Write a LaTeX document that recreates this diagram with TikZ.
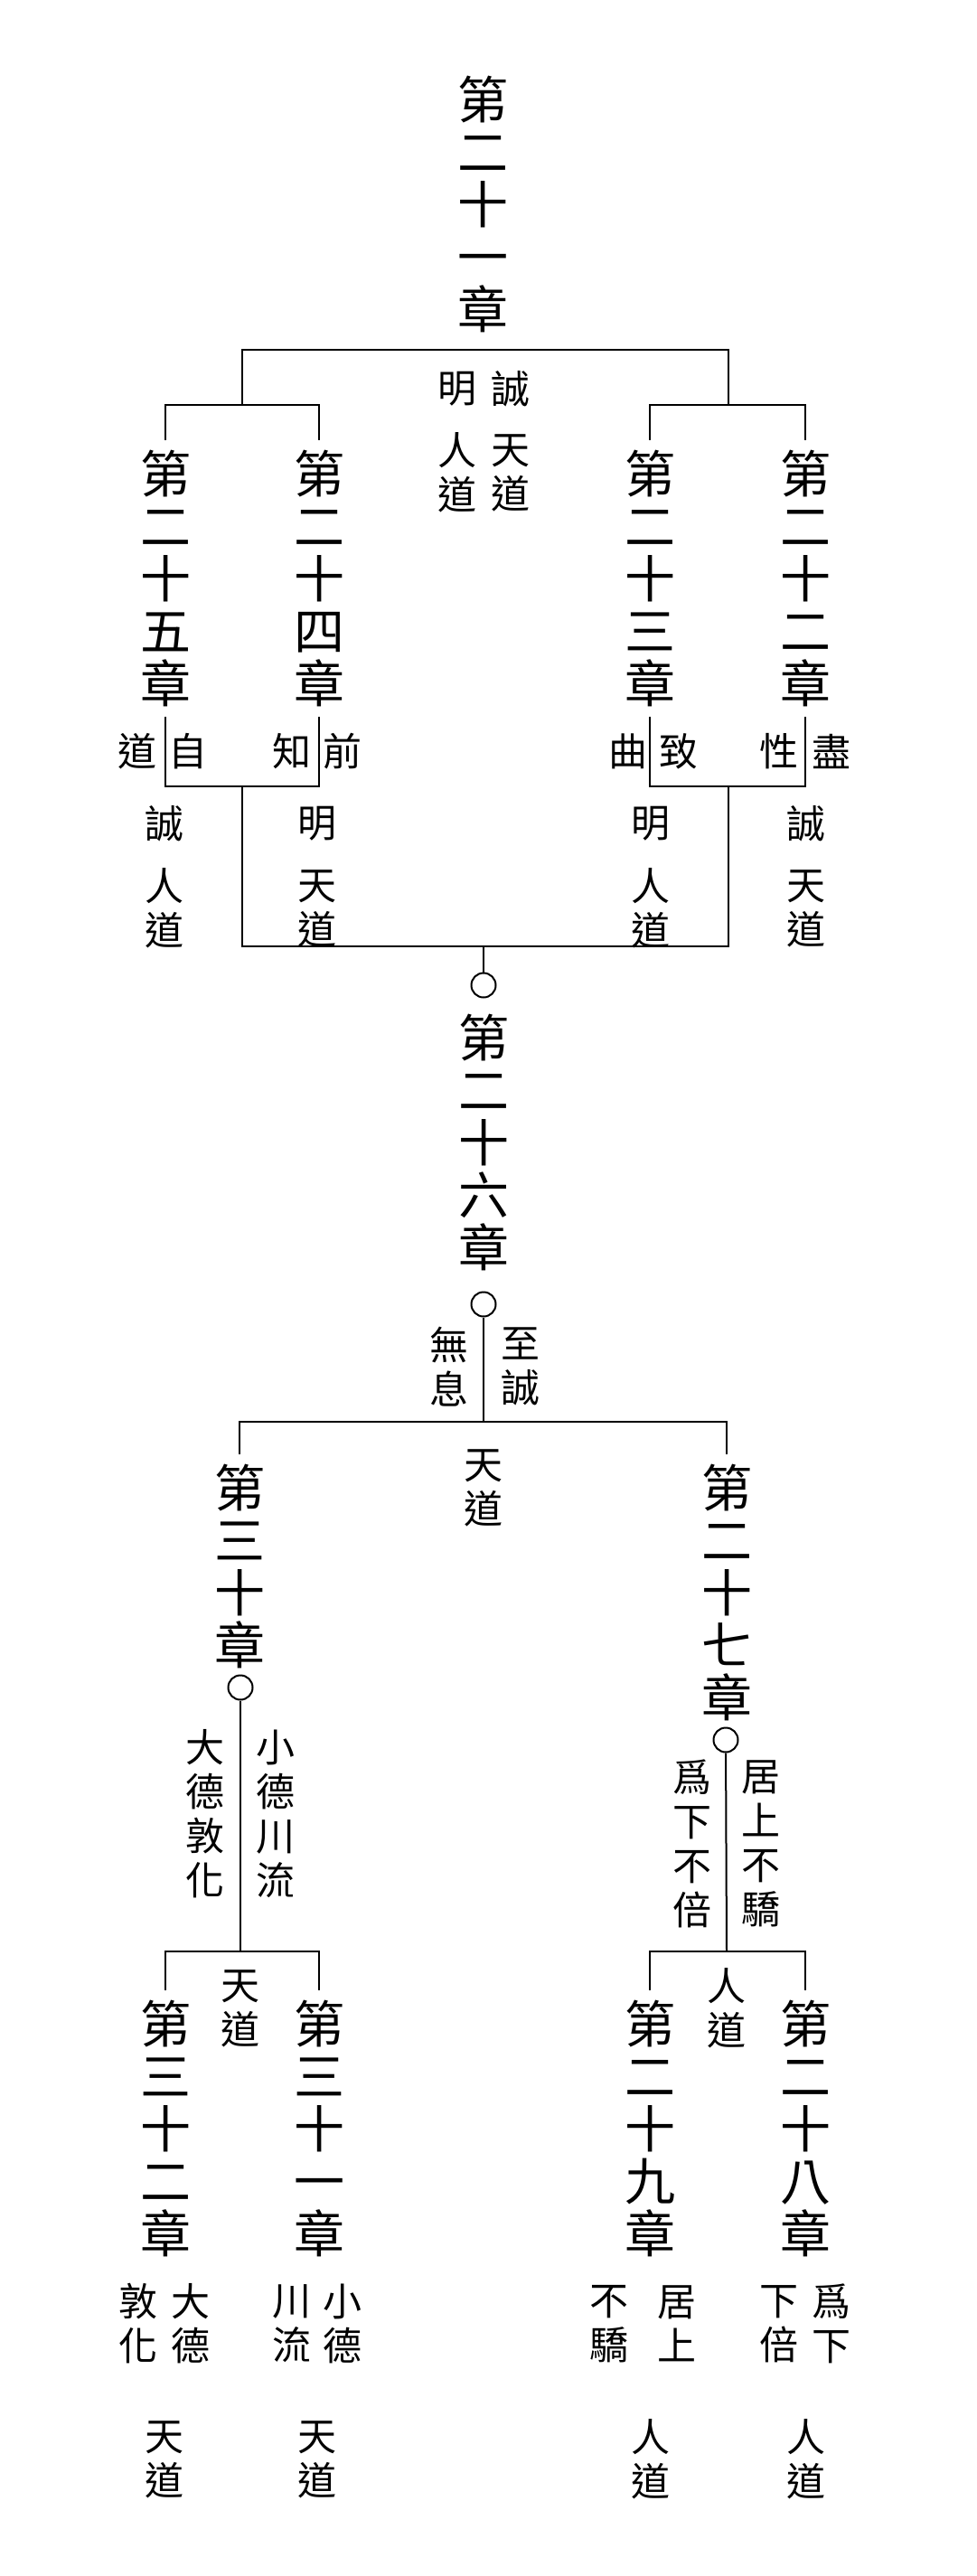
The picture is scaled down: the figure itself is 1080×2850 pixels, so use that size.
\documentclass[tikz,border=0pt]{standalone}
\usepackage{fontspec}
\newfontfamily\cjk{Noto Sans CJK TC}

\begin{document}
\begin{tikzpicture}[x=1pt, y=-1pt, line width=2pt,
  every node/.style = {align=center, inner sep=0pt},
  chap/.style = {font=\cjk\fontsize{56}{58}\selectfont, outer sep=11pt},
  gloss/.style = {font=\cjk\fontsize{43}{49}\selectfont},
  ring/.style = {shape=circle, draw, minimum size=27pt}]
  \useasboundingbox (0,0) rectangle (1080,2850);

  % chapter 21 and the four chapters under it
  \node[chap] (c21) at (534,226) {第\\二\\十\\一\\章};
  \node[chap] (c25) at (183,640) {第\\二\\十\\五\\章};
  \node[chap] (c24) at (353,640) {第\\二\\十\\四\\章};
  \node[chap] (c23) at (719,640) {第\\二\\十\\三\\章};
  \node[chap] (c22) at (891,640) {第\\二\\十\\二\\章};

  \node[gloss] (mingT) at (506,430) {明};
  \node[gloss] (chengT) at (565,430) {誠};
  \node[gloss] (rendaoT) at (506,523) {人\\道};
  \node[gloss] (tiandaoT) at (565,523) {天\\道};

  \coordinate (jT) at (535,387);
  \coordinate (jL) at (268,448);
  \coordinate (jR) at (806,448);
  \draw (c25.north) |- (jL) -| (c24.north);
  \draw (c23.north) |- (jR) -| (c22.north);
  \draw (jL) |- (jT) -| (jR);

  \foreach \x/\t in {152/道, 208/自, 323/知, 379/前, 695/曲, 751/致, 862/性, 920/盡}
    \node[gloss] (s\x) at (\x,831) {\t};
  \foreach \x/\t/\u in {182/誠/人, 351/明/天, 720/明/人, 892/誠/天} {
    \node[gloss] (w\x) at (\x,911) {\t};
    \node[gloss] (d\x) at (\x,1005) {\u\\道};
  }

  \coordinate (kL) at (268,870);
  \coordinate (kR) at (806,870);
  \coordinate (kB) at (535,1047);
  \draw (c25.south) |- (kL) -| (c24.south);
  \draw (c23.south) |- (kR) -| (c22.south);
  \draw (kL) |- (kB) -| (kR);

  % chapter 26
  \node[ring] (o1) at (535,1090) {};
  \node[chap] (c26) at (535,1264) {第\\二\\十\\六\\章};
  \node[ring] (o2) at (535,1443) {};
  \draw (kB) -- (o1);

  \node[gloss] (wuxi) at (497,1512) {無\\息};
  \node[gloss] (zhicheng) at (576,1512) {至\\誠};
  \node[gloss] (tiandaoM) at (535,1646) {天\\道};

  \node[chap] (c30) at (265,1733) {第\\三\\十\\章};
  \node[chap] (c27) at (804,1762) {第\\二\\十\\七\\章};
  \coordinate (mB) at (535,1573);
  \draw (o2) -- (mB);
  \draw (c30.north) |- (mB) -| (c27.north);

  \node[ring] (o3) at (266,1867) {};
  \node[ring] (o4) at (803,1925) {};
  \node[gloss] (dade) at (227,2007) {大\\德\\敦\\化};
  \node[gloss] (xiaode) at (305,2007) {小\\德\\川\\流};
  \node[gloss] (weixia) at (766,2040) {爲\\下\\不\\倍};
  \node[gloss] (jushang) at (842,2040) {居\\上\\不\\驕};
  \node[gloss] (tiandaoL) at (266,2222) {天\\道};
  \node[gloss] (rendaoR) at (804,2222) {人\\道};

  % the last four chapters
  \node[chap] (c32) at (183,2355) {第\\三\\十\\二\\章};
  \node[chap] (c31) at (353,2355) {第\\三\\十\\一\\章};
  \node[chap] (c29) at (719,2355) {第\\二\\十\\九\\章};
  \node[chap] (c28) at (891,2355) {第\\二\\十\\八\\章};

  \coordinate (nL) at (266,2159);
  \coordinate (nR) at (804,2159);
  \draw (o3) -- (nL);
  \draw (o4) -- (nR);
  \draw (c32.north) |- (nL) -| (c31.north);
  \draw (c29.north) |- (nR) -| (c28.north);

  \foreach \x/\t/\u in {153/敦/化, 211/大/德, 323/川/流, 379/小/德,
                        674/不/驕, 749/居/上, 862/下/倍, 920/爲/下}
    \node[gloss] (b\x) at (\x,2571) {\t\\\u};
  \foreach \x/\u in {182/天, 351/天, 720/人, 892/人}
    \node[gloss] (e\x) at (\x,2721) {\u\\道};
\end{tikzpicture}
\end{document}
